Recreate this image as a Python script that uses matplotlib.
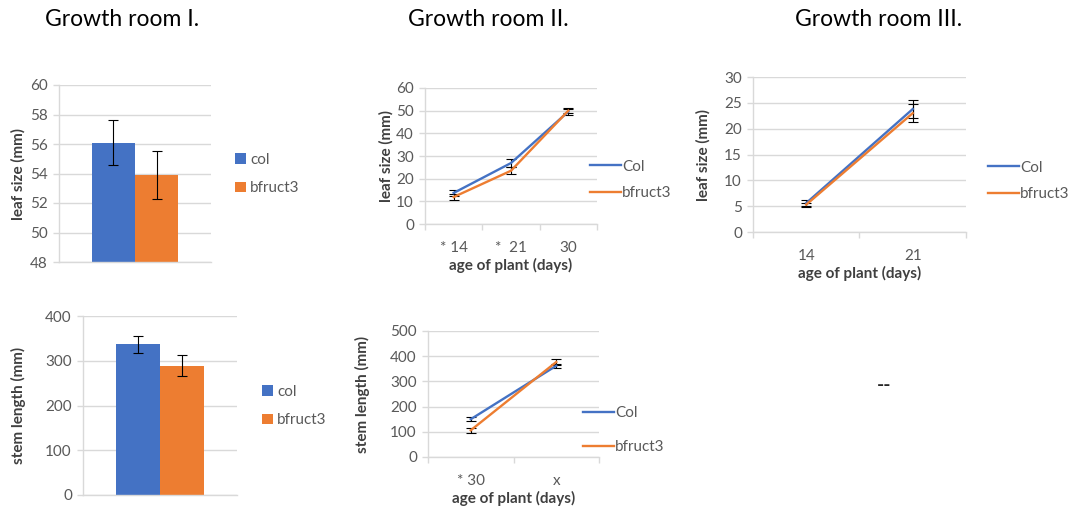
import numpy as np
import matplotlib.pyplot as plt
from matplotlib.ticker import FixedLocator, NullFormatter

plt.rcParams["font.family"] = ["Lato", "DejaVu Sans"]

BLUE = "#4472C4"
ORANGE = "#ED7D31"
GRID = "#D9D9D9"
TICK_TXT = "#595959"
LABEL_TXT = "#404040"

W, H = 1071, 508

# Growth room I. (bar charts)
bar_labels = ["col", "bfruct3"]
room1_leaf = [56.1, 53.9]
room1_leaf_err = [1.55, 1.62]
room1_stem = [337, 289]
room1_stem_err = [19, 23]

# Growth room II.
room2_leaf_days = ["* 14", "*  21", "30"]
room2_leaf_col = [13.7, 26.9, 49.6]
room2_leaf_col_err = [1.5, 1.6, 1.3]
room2_leaf_bf = [11.9, 23.5, 50.0]
room2_leaf_bf_err = [1.3, 1.5, 1.2]

room2_stem_days = ["* 30", "x"]
room2_stem_col = [150, 362]
room2_stem_col_err = [7, 9]
room2_stem_bf = [106, 377]
room2_stem_bf_err = [10, 11]

# Growth room III.
room3_leaf_days = ["14", "21"]
room3_leaf_col = [5.6, 23.8]
room3_leaf_col_err = [0.5, 1.7]
room3_leaf_bf = [5.3, 23.0]
room3_leaf_bf_err = [0.4, 1.8]

line_labels = ["Col", "bfruct3"]


def px_axes(fig, x0, y0, x1, y1):
    return fig.add_axes([x0 / W, 1 - y1 / H, (x1 - x0) / W, (y1 - y0) / H])


def excel_style(ax, ymin, ymax, step):
    ax.set_ylim(ymin, ymax)
    ax.set_yticks(np.arange(ymin, ymax + step / 2, step))
    ax.grid(axis="y", color=GRID, linewidth=1.0)
    ax.set_axisbelow(True)
    for side in ["top", "right"]:
        ax.spines[side].set_visible(False)
    for side in ["left", "bottom"]:
        ax.spines[side].set_color(GRID)
        ax.spines[side].set_linewidth(1.0)
    ax.tick_params(axis="y", length=4, width=1.0, color=GRID, labelsize=11,
                   labelcolor=TICK_TXT, pad=4)


def place_ylabel(ax, box, text, center_x):
    ax.set_ylabel(text, fontsize=11, fontweight="bold", color=LABEL_TXT)
    ax.yaxis.set_label_coords((center_x + 7.5 - box[0]) / (box[2] - box[0]), 0.5)


def bar_panel(fig, box, values, errs, ymin, ymax, step, ylabel, ylabel_x, legend_xy):
    ax = px_axes(fig, *box)
    excel_style(ax, ymin, ymax, step)
    w = 0.283
    pos = [-w / 2, w / 2]
    for p, v, e, c, lab in zip(pos, values, errs, [BLUE, ORANGE], bar_labels):
        ax.bar(p, v - ymin, bottom=ymin, width=w, color=c, label=lab,
               yerr=e, error_kw=dict(ecolor="black", elinewidth=0.8, capsize=3.5, capthick=0.8))
    ax.set_xlim(-0.5, 0.5)
    ax.set_xticks([])
    place_ylabel(ax, box, ylabel, ylabel_x)
    ax.legend(loc="center left", bbox_to_anchor=(legend_xy[0] / W, 1 - legend_xy[1] / H),
              bbox_transform=fig.transFigure, frameon=False, fontsize=11,
              handlelength=0.7, handleheight=0.7, handletextpad=0.3, labelspacing=0.95,
              borderpad=0, borderaxespad=0, labelcolor=TICK_TXT)
    return ax


def line_panel(fig, box, days, col, col_err, bf, bf_err, ymin, ymax, step, ylabel,
               ylabel_x, legend_xy, legend_spacing):
    ax = px_axes(fig, *box)
    excel_style(ax, ymin, ymax, step)
    x = np.arange(len(days))
    ax.errorbar(x, col, yerr=col_err, color=BLUE, linewidth=1.7, ecolor="black",
                elinewidth=0.8, capsize=3.5, capthick=0.8, label=line_labels[0], zorder=3)
    ax.errorbar(x, bf, yerr=bf_err, color=ORANGE, linewidth=1.7, ecolor="black",
                elinewidth=0.8, capsize=3.5, capthick=0.8, label=line_labels[1], zorder=3)
    ax.set_xlim(-0.5, len(days) - 0.5)
    ax.xaxis.set_major_locator(FixedLocator(np.arange(-0.5, len(days), 1.0)))
    ax.xaxis.set_major_formatter(NullFormatter())
    ax.xaxis.set_minor_locator(FixedLocator(x))
    ax.set_xticklabels(days, minor=True)
    ax.tick_params(axis="x", which="major", length=4, width=1.0, color=GRID)
    ax.tick_params(axis="x", which="minor", length=0, labelsize=11,
                   labelcolor=TICK_TXT, pad=12)
    ax.set_xlabel("age of plant (days)", fontsize=11, fontweight="bold",
                  color=LABEL_TXT, labelpad=2)
    place_ylabel(ax, box, ylabel, ylabel_x)
    handles, labels = ax.get_legend_handles_labels()
    handles = [h[0] for h in handles]
    ax.legend(handles, labels, loc="center left",
              bbox_to_anchor=(legend_xy[0] / W, 1 - legend_xy[1] / H),
              bbox_transform=fig.transFigure, frameon=False, fontsize=11,
              handlelength=2.0, handletextpad=0.1, labelspacing=legend_spacing,
              borderpad=0, borderaxespad=0, labelcolor=TICK_TXT)
    return ax


fig = plt.figure(figsize=(W / 100, H / 100), dpi=100)

fig.text(122 / W, 1 - 19 / H, "Growth room I.", ha="center", va="center", fontsize=16.5)
fig.text(488 / W, 1 - 19 / H, "Growth room II.", ha="center", va="center", fontsize=16.5)
fig.text(879 / W, 1 - 19 / H, "Growth room III.", ha="center", va="center", fontsize=16.5)

bar_panel(fig, (59, 85, 211, 262), room1_leaf, room1_leaf_err, 48, 60, 2,
          "leaf size (mm)", 18, (235, 174))
bar_panel(fig, (83, 316, 237, 495), room1_stem, room1_stem_err, 0, 400, 100,
          "stem length (mm)", 19, (262, 406))

line_panel(fig, (425, 88, 597, 224), room2_leaf_days, room2_leaf_col, room2_leaf_col_err,
           room2_leaf_bf, room2_leaf_bf_err, 0, 60, 10, "leaf size (mm)", 386,
           (590, 180), 0.85)
line_panel(fig, (428, 331, 599, 457), room2_stem_days, room2_stem_col, room2_stem_col_err,
           room2_stem_bf, room2_stem_bf_err, 0, 500, 100, "stem length (mm)", 363,
           (583, 430), 1.3)
line_panel(fig, (753, 77, 966, 232), room3_leaf_days, room3_leaf_col, room3_leaf_col_err,
           room3_leaf_bf, room3_leaf_bf_err, 0, 30, 5, "leaf size (mm)", 703,
           (988, 181), 0.85)

fig.text(884 / W, 1 - 386 / H, "--", ha="center", va="center", fontsize=14, fontweight="bold",
         color="#262626")

fig.savefig("out.png", dpi=100)
